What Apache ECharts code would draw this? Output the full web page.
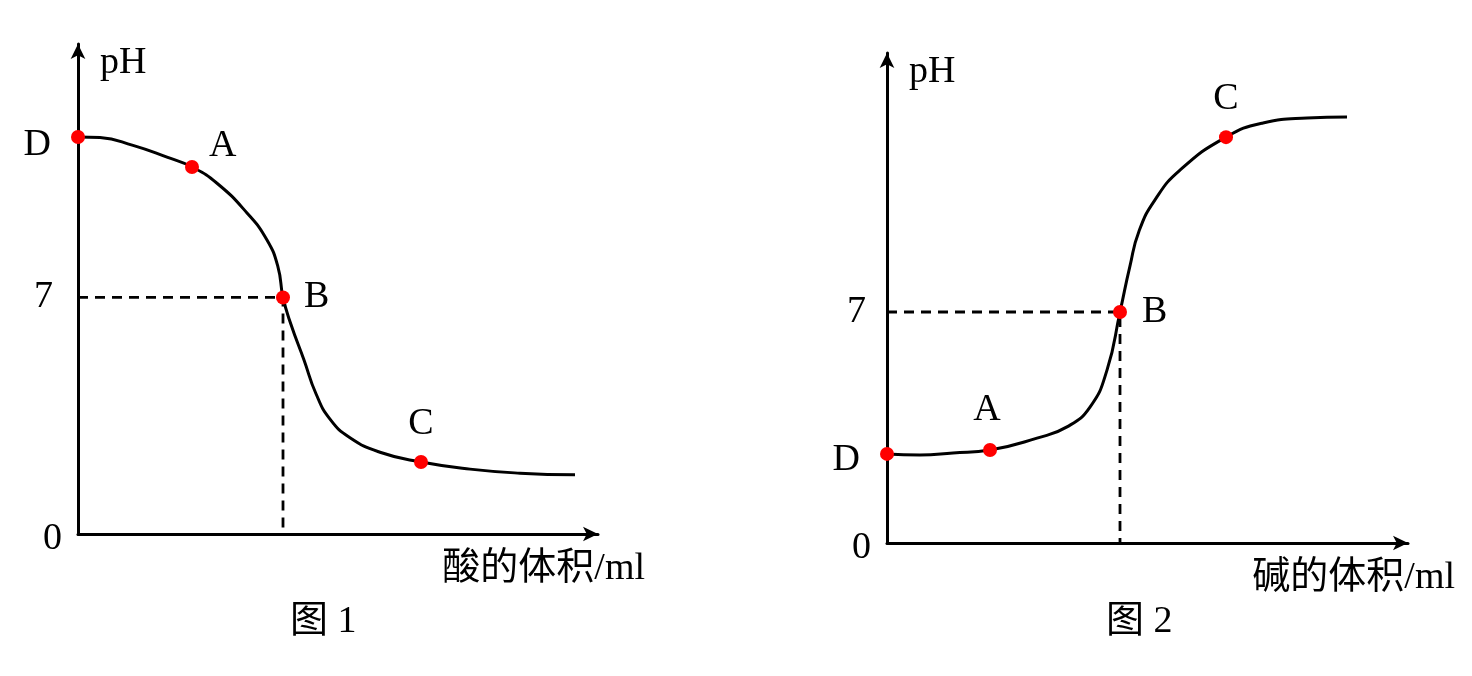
<!DOCTYPE html>
<html><head><meta charset="utf-8">
<script src="https://cdn.jsdelivr.net/npm/echarts@6/dist/echarts.min.js"></script>
<style>html,body{margin:0;padding:0;background:#fff}#c{width:1472px;height:676px}</style>
</head><body><div id="c"></div>
<script>
// Figure 1: pH vs acid volume
const curve1X = [0, 2.2, 5.5, 8.9, 11.4, 13.9, 16.9, 18.9, 20.0, 20.5, 21.3, 22.6, 23.8, 25.2, 27.2, 30.2, 34.3, 39.2, 44.2, 49.7];
const curve1Y = [11.75, 11.73, 11.5, 11.15, 10.86, 10.38, 9.5, 8.70, 7.9, 7.0, 6.2, 5.15, 4.15, 3.40, 2.85, 2.42, 2.13, 1.92, 1.80, 1.75];
const points1Name = ['D', 'A', 'B', 'C'];
const points1X = [0, 11.4, 20.5, 34.3];
const points1Y = [11.75, 10.86, 7.0, 2.13];
const guide1X = [0, 20.5, 20.5];
const guide1Y = [7, 7, 0];

// Figure 2: pH vs base volume
const curve2X = [0, 3.3, 6.6, 10.3, 15.0, 18.0, 20.3, 22.0, 23.3, 24.3, 25.2, 26.8, 29.3, 33.9, 37.6, 42.0, 46.0];
const curve2Y = [2.70, 2.67, 2.73, 2.82, 3.18, 3.52, 4.12, 5.24, 7.0, 8.40, 9.45, 10.40, 11.30, 12.30, 12.73, 12.88, 12.91];
const points2Name = ['D', 'A', 'B', 'C'];
const points2X = [0, 10.3, 23.3, 33.9];
const points2Y = [2.70, 2.82, 7.0, 12.30];
const guide2X = [0, 23.3, 23.3];
const guide2Y = [7, 7, 0];

const yTicks = [0, 7];
const xNames = ['酸的体积/ml', '碱的体积/ml'];
const yName = 'pH';
const captions = ['图 1', '图 2'];

const zip = (a, b) => a.map((v, i) => [v, b[i]]);
const FONT = '"Liberation Serif", "Noto Sans CJK SC", serif';
const FS = 38;

function xAxis(idx, max, name) {
  return {
    type: 'value', gridIndex: idx, min: 0, max: max,
    splitLine: { show: false }, axisTick: { show: false }, axisLabel: { show: false },
    axisLine: { lineStyle: { color: '#000', width: 3 }, symbol: ['none', 'arrow'], symbolSize: [11, 15], symbolOffset: [0, 0] },
    name: name, nameLocation: 'end', nameGap: 47,
    nameTextStyle: { fontFamily: FONT, fontSize: FS, color: '#000', align: 'right', verticalAlign: 'top', padding: [16, 0, 0, 0] }
  };
}
function yAxis(idx, max, r0, r7) {
  return {
    type: 'value', gridIndex: idx, min: 0, max: max, interval: 7,
    splitLine: { show: false }, axisTick: { show: false },
    axisLine: { lineStyle: { color: '#000', width: 3 }, symbol: ['none', 'arrow'], symbolSize: [11, 15], symbolOffset: [0, 0] },
    axisLabel: {
      margin: 16, fontFamily: FONT, fontSize: FS, color: '#000', showMaxLabel: false,
      formatter: v => yTicks.includes(v) ? (v === 7 ? '{s|' + v + '}' : '{z|' + v + '}') : '',
      rich: { s: { fontFamily: FONT, fontSize: FS, color: '#000', padding: [0, r7, 0, 0] },
              z: { fontFamily: FONT, fontSize: FS, color: '#000', padding: [10, r0, 0, 0] } }
    },
    name: yName, nameLocation: 'end', nameGap: 0,
    nameTextStyle: { fontFamily: FONT, fontSize: FS, color: '#000', align: 'left', verticalAlign: 'top', padding: [0, 0, 0, 22] }
  };
}
function curve(idx, xs, ys) {
  return { type: 'line', xAxisIndex: idx, yAxisIndex: idx, data: zip(xs, ys), smooth: 0.5, showSymbol: false,
    lineStyle: { color: '#000', width: 3 }, z: 3, silent: true };
}
function guide(idx, xs, ys) {
  return { type: 'line', xAxisIndex: idx, yAxisIndex: idx, data: zip(xs, ys), showSymbol: false,
    lineStyle: { color: '#000', width: 2.8, type: [10, 7] }, z: 2, silent: true };
}
function pts(idx, names, xs, ys, labelPos) {
  return { type: 'scatter', xAxisIndex: idx, yAxisIndex: idx, symbolSize: 14, itemStyle: { color: '#ff0000', opacity: 1 }, z: 5,
    data: names.map((n, i) => ({ name: n, value: [xs[i], ys[i]], label: labelPos[n] })),
    label: { show: true, formatter: '{b}', fontFamily: FONT, fontSize: FS, color: '#000', opacity: 1 } };
}

const opt = {
  animation: false,
  grid: [
    { left: 78, top: 44, width: 520, height: 490 },
    { left: 887, top: 53, width: 521, height: 490 }
  ],
  xAxis: [xAxis(0, 52, xNames[0]), xAxis(1, 52.1, xNames[1])],
  yAxis: [yAxis(0, 14.5, 0, 9), yAxis(1, 14.85, 0, 5)],
  series: [
    guide(0, guide1X, guide1Y), curve(0, curve1X, curve1Y),
    pts(0, points1Name, points1X, points1Y, {
      D: { position: 'left', distance: 20, offset: [0, 8] },
      A: { position: 'right', distance: 10, offset: [0, -21] },
      B: { position: 'right', distance: 14 },
      C: { position: 'top', distance: 12 }
    }),
    guide(1, guide2X, guide2Y), curve(1, curve2X, curve2Y),
    pts(1, points2Name, points2X, points2Y, {
      D: { position: 'left', distance: 20, offset: [0, 6] },
      A: { position: 'top', distance: 14, offset: [-3, 0] },
      B: { position: 'right', distance: 15 },
      C: { position: 'top', distance: 12 }
    })
  ],
  graphic: [
    { type: 'text', left: 290, top: 603, style: { text: captions[0], font: FS + 'px ' + FONT, fill: '#000' } },
    { type: 'text', left: 1106, top: 603, style: { text: captions[1], font: FS + 'px ' + FONT, fill: '#000' } }
  ]
};
const chart = echarts.init(document.getElementById('c'), null, { renderer: 'canvas' });
chart.setOption(opt);
</script></body></html>
